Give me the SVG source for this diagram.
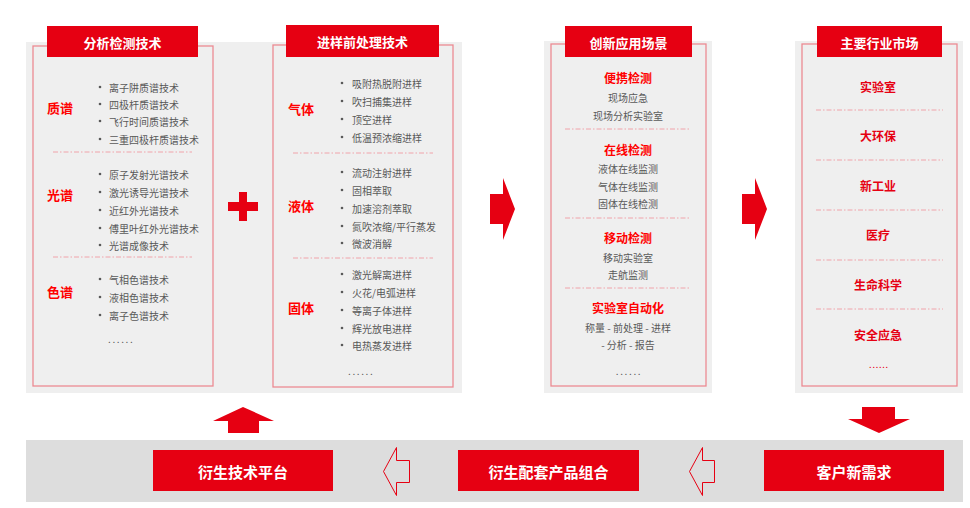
<svg xmlns="http://www.w3.org/2000/svg" width="970" height="508" viewBox="0 0 970 508">
<style>
text{font-family:"Noto Sans CJK SC","Noto Sans",sans-serif;dominant-baseline:central}
.bg{fill:#efefef}
.box{fill:none;stroke:#ec8a92;stroke-width:1.3}
.ttl{fill:#e60012}
.tt{fill:#fff;font-size:13px;font-weight:bold;text-anchor:middle}
.cat{fill:#ff0000;font-size:13px;font-weight:bold}
.it{fill:#595959;font-size:10px}
.hd{fill:#ff0000;font-size:12px;font-weight:bold;text-anchor:middle}
.sub{fill:#595959;font-size:10px;text-anchor:middle}
.mk{fill:#e60012;font-size:12px;font-weight:bold;text-anchor:middle}
.dl{stroke:#f0a3aa;stroke-width:1;stroke-dasharray:5 2 1.5 2}
.dot{fill:#595959}
.el{fill:#595959;font-size:10px;letter-spacing:1.6px}
.btn{fill:#e60012}
.bt{fill:#fff;font-size:15px;font-weight:bold;text-anchor:middle}
.red{fill:#e60012}
.hol{fill:none;stroke:#e60012;stroke-width:1}
</style>
<defs>
<circle id="b" r="1.3" class="dot"/>
</defs>
<rect x="26" y="42" width="436" height="351" class="bg"/>
<rect x="544" y="41" width="168" height="352" class="bg"/>
<rect x="795" y="41" width="168" height="352" class="bg"/>
<rect x="26" y="440" width="937" height="62" fill="#dddddd"/>

<g id="panel-analysis">
<rect x="33" y="46" width="180" height="340" class="box"/>
<rect x="47" y="26" width="151" height="31" class="ttl"/>
<text x="122.5" y="42" class="tt">分析检测技术</text>
<text x="47" y="107" class="cat">质谱</text>
<use href="#b" x="100" y="87"/><text x="109" y="87" class="it">离子阱质谱技术</text>
<use href="#b" x="100" y="104"/><text x="109" y="104" class="it">四极杆质谱技术</text>
<use href="#b" x="100" y="121"/><text x="109" y="121" class="it">飞行时间质谱技术</text>
<use href="#b" x="100" y="139"/><text x="109" y="139" class="it">三重四极杆质谱技术</text>
<line x1="53" y1="152" x2="192" y2="152" class="dl"/>
<text x="47" y="194" class="cat">光谱</text>
<use href="#b" x="100" y="174"/><text x="109" y="174" class="it">原子发射光谱技术</text>
<use href="#b" x="100" y="192"/><text x="109" y="192" class="it">激光诱导光谱技术</text>
<use href="#b" x="100" y="210"/><text x="109" y="210" class="it">近红外光谱技术</text>
<use href="#b" x="100" y="228"/><text x="109" y="228" class="it">傅里叶红外光谱技术</text>
<use href="#b" x="100" y="245"/><text x="109" y="245" class="it">光谱成像技术</text>
<line x1="53" y1="257" x2="192" y2="257" class="dl"/>
<text x="47" y="291" class="cat">色谱</text>
<use href="#b" x="100" y="279"/><text x="109" y="279" class="it">气相色谱技术</text>
<use href="#b" x="100" y="297"/><text x="109" y="297" class="it">液相色谱技术</text>
<use href="#b" x="100" y="315"/><text x="109" y="315" class="it">离子色谱技术</text>
<text x="108" y="338" class="el">......</text>
</g>

<g id="plus">
<rect x="239" y="192" width="8" height="29" class="red"/>
<rect x="228" y="202" width="30" height="9" class="red"/>
</g>

<g id="panel-sampling">
<rect x="273" y="45" width="180" height="342" class="box"/>
<rect x="286" y="25" width="153" height="32" class="ttl"/>
<text x="362.5" y="41" class="tt">进样前处理技术</text>
<text x="288" y="108" class="cat">气体</text>
<use href="#b" x="342" y="83"/><text x="352" y="83" class="it">吸附热脱附进样</text>
<use href="#b" x="342" y="101"/><text x="352" y="101" class="it">吹扫捕集进样</text>
<use href="#b" x="342" y="119"/><text x="352" y="119" class="it">顶空进样</text>
<use href="#b" x="342" y="137"/><text x="352" y="137" class="it">低温预浓缩进样</text>
<line x1="293" y1="153" x2="433" y2="153" class="dl"/>
<text x="288" y="205" class="cat">液体</text>
<use href="#b" x="342" y="172"/><text x="352" y="172" class="it">流动注射进样</text>
<use href="#b" x="342" y="190"/><text x="352" y="190" class="it">固相萃取</text>
<use href="#b" x="342" y="208"/><text x="352" y="208" class="it">加速溶剂萃取</text>
<use href="#b" x="342" y="226"/><text x="352" y="226" class="it">氮吹浓缩/平行蒸发</text>
<use href="#b" x="342" y="243"/><text x="352" y="243" class="it">微波消解</text>
<line x1="293" y1="258" x2="433" y2="258" class="dl"/>
<text x="288" y="307" class="cat">固体</text>
<use href="#b" x="342" y="274"/><text x="352" y="274" class="it">激光解离进样</text>
<use href="#b" x="342" y="292"/><text x="352" y="292" class="it">火花/电弧进样</text>
<use href="#b" x="342" y="310"/><text x="352" y="310" class="it">等离子体进样</text>
<use href="#b" x="342" y="328"/><text x="352" y="328" class="it">辉光放电进样</text>
<use href="#b" x="342" y="345"/><text x="352" y="345" class="it">电热蒸发进样</text>
<text x="348" y="370" class="el">......</text>
</g>

<g id="panel-scenarios">
<rect x="551" y="44" width="155" height="342" class="box"/>
<rect x="565" y="26" width="127" height="31" class="ttl"/>
<text x="628.5" y="42" class="tt">创新应用场景</text>
<text x="628" y="77" class="hd">便携检测</text>
<text x="628" y="97" class="sub">现场应急</text>
<text x="628" y="115" class="sub">现场分析实验室</text>
<line x1="565" y1="129" x2="691" y2="129" class="dl"/>
<text x="628" y="149" class="hd">在线检测</text>
<text x="628" y="168" class="sub">液体在线监测</text>
<text x="628" y="186" class="sub">气体在线监测</text>
<text x="628" y="203" class="sub">固体在线检测</text>
<line x1="565" y1="218" x2="691" y2="218" class="dl"/>
<text x="628" y="237" class="hd">移动检测</text>
<text x="628" y="257" class="sub">移动实验室</text>
<text x="628" y="274" class="sub">走航监测</text>
<line x1="565" y1="288" x2="691" y2="288" class="dl"/>
<text x="628" y="307" class="hd">实验室自动化</text>
<text x="628" y="327" class="sub">称量 - 前处理 - 进样</text>
<text x="628" y="344" class="sub">- 分析 - 报告</text>
<text x="629" y="370" class="el" text-anchor="middle">......</text>
</g>

<g id="panel-markets">
<rect x="802" y="44" width="155" height="342" class="box"/>
<rect x="817" y="26" width="125" height="31" class="ttl"/>
<text x="879.5" y="42" class="tt">主要行业市场</text>
<text x="878" y="86" class="mk">实验室</text>
<line x1="816" y1="110" x2="943" y2="110" class="dl"/>
<text x="878" y="135" class="mk">大环保</text>
<line x1="816" y1="160" x2="943" y2="160" class="dl"/>
<text x="878" y="185" class="mk">新工业</text>
<line x1="816" y1="210" x2="943" y2="210" class="dl"/>
<text x="878" y="234" class="mk">医疗</text>
<line x1="816" y1="260" x2="943" y2="260" class="dl"/>
<text x="878" y="284" class="mk">生命科学</text>
<line x1="816" y1="309" x2="943" y2="309" class="dl"/>
<text x="878" y="334" class="mk">安全应急</text>
<text x="879" y="364" class="el" text-anchor="middle" style="fill:#e60012;font-size:9px;letter-spacing:0.8px">......</text>
</g>

<g id="node-platform">
<rect x="153" y="450" width="180" height="41" class="btn"/>
<text x="243" y="471" class="bt">衍生技术平台</text>
</g>
<g id="node-products">
<rect x="458" y="450" width="181" height="41" class="btn"/>
<text x="548.5" y="471" class="bt">衍生配套产品组合</text>
</g>
<g id="node-demand">
<rect x="764" y="450" width="180" height="41" class="btn"/>
<text x="854" y="471" class="bt">客户新需求</text>
</g>

<g id="connectors">
<polygon points="490,194 503,194 503,178 515,209 503,240 503,224 490,224" class="red"/>
<polygon points="742,194 755,194 755,178 767,209 755,240 755,224 742,224" class="red"/>
<polygon points="228,433 228,421 213,421 243,407 274,421 259,421 259,433" class="red"/>
<polygon points="862,407 895,407 895,419 910,419 879,433 848,419 862,419" class="red"/>
<polygon points="383.5,471.5 396.5,447.5 396.5,460.5 409.5,460.5 409.5,482.5 396.5,482.5 396.5,495.5" class="hol"/>
<polygon points="689.5,471.5 702.5,447.5 702.5,460.5 714.5,460.5 714.5,482.5 702.5,482.5 702.5,495.5" class="hol"/>
</g>
</svg>
